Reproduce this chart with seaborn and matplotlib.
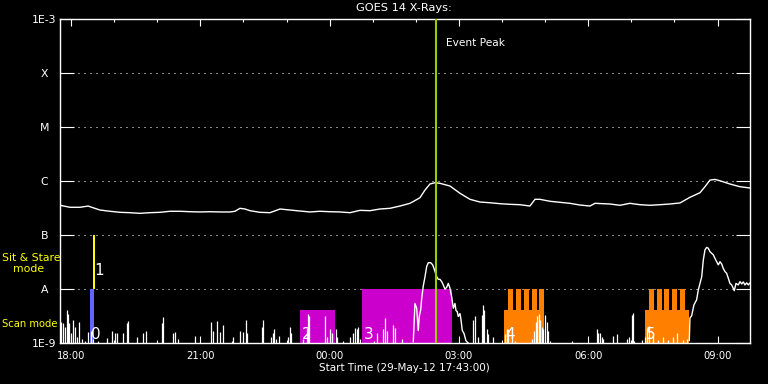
import numpy as np
import pandas as pd
import matplotlib
matplotlib.use('Agg')
import matplotlib.pyplot as plt
import matplotlib.dates as mdates
from matplotlib.ticker import NullLocator
import seaborn as sns

# start of the plotted interval; all times below are minutes after it
start = pd.Timestamp('2012-05-29 17:43:00')

# GOES 14 long channel (1-8 A), (minute, W/m^2)
long_xrs = [(0, 3.59e-7), (15.6, 3.26e-7), (29.5, 3.26e-7), (41.1, 3.44e-7), (43.5, 3.34e-7),
            (57.4, 2.9e-7), (71.3, 2.75e-7), (85.2, 2.63e-7), (99.1, 2.59e-7), (113, 2.52e-7),
            (127, 2.59e-7), (140.9, 2.63e-7), (154.8, 2.75e-7), (168.7, 2.75e-7), (182.7, 2.7e-7),
            (196.6, 2.67e-7), (210.5, 2.7e-7), (224.4, 2.67e-7), (238.3, 2.67e-7), (245.3, 2.75e-7),
            (252.2, 3.12e-7), (259.2, 3.03e-7), (266.2, 2.82e-7), (280.1, 2.63e-7), (294, 2.59e-7),
            (308, 3.03e-7), (321.9, 2.9e-7), (335.8, 2.78e-7), (349.7, 2.67e-7), (363.6, 2.75e-7),
            (377.5, 2.7e-7), (391.5, 2.67e-7), (405.4, 2.59e-7), (419.3, 2.86e-7), (433.2, 2.82e-7),
            (447.1, 3.03e-7), (461, 3.12e-7), (475, 3.44e-7), (488.9, 3.86e-7), (502.8, 4.9e-7),
            (509.8, 6.8e-7), (516.7, 8.8e-7), (523.7, 9.3e-7), (530.6, 9.06e-7), (544.6, 8.07e-7),
            (558.5, 5.92e-7), (572.4, 4.58e-7), (586.3, 4.08e-7), (600.2, 3.96e-7), (614.2, 3.8e-7),
            (628.1, 3.7e-7), (642, 3.64e-7), (655.9, 3.44e-7), (662.9, 4.58e-7), (669.8, 4.58e-7),
            (683.8, 4.21e-7), (697.7, 4.03e-7), (711.6, 3.86e-7), (725.5, 3.59e-7), (739.4, 3.44e-7),
            (746.4, 3.86e-7), (767.3, 3.75e-7), (781.2, 3.55e-7), (795.1, 3.86e-7), (809, 3.64e-7),
            (823, 3.55e-7), (836.9, 3.64e-7), (850.8, 3.75e-7), (864.7, 3.92e-7), (878.6, 4.99e-7),
            (892.6, 6.07e-7), (899.5, 7.84e-7), (906.5, 1.04e-6), (913.4, 1.07e-6), (920.4, 1.01e-6),
            (934.3, 8.8e-7), (948.2, 7.84e-7), (962.2, 7.42e-7)]

# short channel (0.5-4 A): the two continuous rises
short_flare = [(493.5, 1.05e-9), (495.8, 5.4e-9), (498.2, 4.4e-9), (500.4, 1.7e-9), (501.8, 3.1e-9),
               (503.8, 4.1e-9), (505.2, 6.7e-9), (507.4, 1.14e-8), (509.8, 1.69e-8), (512.1, 2.6e-8),
               (514.4, 3.07e-8), (517.7, 3.07e-8), (520.5, 2.8e-8), (522.3, 2.4e-8), (526.1, 1.69e-8),
               (528.3, 1.51e-8), (530.6, 1.51e-8), (533, 1.37e-8), (535.2, 1.19e-8), (537.6, 9.9e-9),
               (539.9, 1.07e-8), (542.2, 1.27e-8), (544.6, 1.03e-8), (546.9, 7.2e-9), (549.2, 4.4e-9),
               (551.5, 5.4e-9), (552.9, 4.0e-9), (554.7, 3.8e-9), (556.1, 3.1e-9), (558.5, 3.5e-9),
               (559.9, 2.7e-9), (561.7, 1.7e-9), (564.1, 1.5e-9), (566.8, 1.1e-9), (570, 1.0e-9)]
short_end = [(877.7, 1.1e-9), (878.6, 2.9e-9), (881, 3.2e-9), (884.2, 5.1e-9), (887.9, 6.3e-9),
             (890.2, 9.6e-9), (892.6, 1.27e-8), (895, 1.69e-8), (897.2, 3.44e-8), (899.5, 5.3e-8),
             (901.9, 5.9e-8), (904.1, 5.7e-8), (906.5, 4.9e-8), (908.8, 4.6e-8), (911.1, 4.3e-8),
             (913.4, 3.7e-8), (915.8, 3.2e-8), (918.1, 2.8e-8), (920.4, 3.2e-8), (922.8, 2.9e-8),
             (925, 2.4e-8), (927.4, 2.1e-8), (929.7, 1.95e-8), (932, 1.58e-8), (934.3, 1.27e-8),
             (936.7, 1.19e-8), (938.9, 1.03e-8), (940.3, 9.3e-9), (942.7, 1.27e-8), (945.9, 1.19e-8),
             (948.3, 1.37e-8), (950.6, 1.24e-8), (952.9, 1.35e-8), (955.2, 1.19e-8), (957.6, 1.3e-8),
             (959.8, 1.19e-8), (962.2, 1.3e-8)]

# short channel noise spikes rising off the 1E-9 floor
short_spikes = [(3.1, 2.5e-9), (6.3, 2.3e-9), (8.7, 2.0e-9), (11.0, 4.1e-9), (12.4, 3.5e-9),
                (14.7, 2.3e-9), (17.0, 1.5e-9), (20.3, 2.7e-9), (22.6, 2.0e-9), (24.9, 1.3e-9),
                (28.1, 2.5e-9), (31.9, 1.2e-9), (36.5, 1.1e-9), (41.1, 1.6e-9), (44.4, 1.7e-9),
                (48.1, 1.2e-9), (55.1, 1.1e-9), (66.7, 1.25e-9), (73.6, 1.7e-9), (78.3, 1.5e-9),
                (81.5, 1.55e-9), (89.9, 1.5e-9), (94.5, 2.3e-9), (96.8, 2.6e-9), (108.4, 1.3e-9),
                (117.7, 1.5e-9), (121.4, 1.7e-9), (143.2, 2.3e-9), (145.5, 3.0e-9), (159.5, 1.5e-9),
                (161.8, 1.6e-9), (166.4, 1.2e-9), (189.6, 1.35e-9), (211.4, 2.5e-9), (215.1, 1.7e-9),
                (220.7, 2.6e-9), (224.4, 1.6e-9), (228.1, 2.2e-9), (240.7, 1.1e-9), (243.0, 1.3e-9),
                (252.3, 1.7e-9), (256.9, 1.6e-9), (260.1, 2.7e-9), (262.5, 1.5e-9),
                (282.5, 2.0e-9), (284.7, 2.7e-9), (295, 1.27e-9), (297.8, 1.55e-9), (299.6, 1.8e-9),
                (302.4, 1.2e-9), (307, 1.35e-9), (319.5, 1.27e-9), (321.8, 2.0e-9), (323.7, 1.5e-9),
                (340.4, 1.2e-9), (345.1, 1.9e-9), (347.3, 3.5e-9), (348.7, 3.1e-9), (370.6, 3.2e-9),
                (373, 1.3e-9), (377.5, 1.8e-9), (379.9, 1.5e-9), (385.9, 1.8e-9), (387.7, 1.3e-9),
                (396, 1.1e-9), (405.4, 1.27e-9), (410, 1.55e-9), (412.3, 1.9e-9), (414.7, 1.8e-9),
                (416.9, 1.95e-9), (419.3, 1.2e-9), (438.8, 1.1e-9), (442.5, 1.5e-9), (451.7, 1.8e-9),
                (454.1, 2.9e-9), (456.4, 1.65e-9), (465.7, 2.15e-9), (468, 1.9e-9), (477.3, 1.2e-9),
                (577, 2.7e-9), (579.4, 3.1e-9), (584, 1.3e-9), (588.7, 3.3e-9), (590.1, 5.0e-9),
                (591.9, 4.1e-9), (595.6, 1.8e-9), (597.9, 1.45e-9), (604.9, 1.27e-9), (621.1, 1.45e-9),
                (623.5, 1.8e-9), (625.7, 1.8e-9), (630.5, 1.3e-9), (635, 1.1e-9), (658.3, 1.2e-9),
                (661.9, 1.65e-9), (663.9, 2.5e-9), (666.1, 3.1e-9), (668.5, 3.5e-9), (669.9, 2.7e-9),
                (672.2, 2.0e-9), (674.4, 1.8e-9), (676.8, 3.3e-9), (679.2, 2.5e-9), (681.4, 1.65e-9),
                (683.8, 1.1e-9), (714, 1.1e-9), (748.8, 1.8e-9), (751, 1.5e-9), (753.4, 1.55e-9),
                (755.7, 1.27e-9), (758, 1.2e-9), (771.9, 1.35e-9), (777.5, 1.45e-9), (790.5, 1.2e-9),
                (794.1, 1.27e-9), (797.5, 3.3e-9), (798.9, 3.6e-9), (800.7, 1.1e-9), (811.4, 1.14e-9),
                (816, 1.3e-9), (818.4, 1.87e-9), (822, 2.06e-9), (827.6, 1.5e-9), (834.5, 1.14e-9),
                (841.5, 1.3e-9), (848.5, 1.14e-9), (855.4, 1.3e-9), (861, 1.5e-9), (869.3, 1.14e-9),
                (874, 1.2e-9)]

# observation periods: (start min, end min, bottom flux, top flux, colour)
obs_blocks = [(43.4, 49.0, 1e-9, 1e-8, '#6464ff'),
              (47.6, 50.4, 1e-8, 1e-7, '#ffff00'),
              (335.8, 384.5, 1e-9, 4.1e-9, '#cc00cc'),
              (422.1, 546.9, 1e-9, 1e-8, '#cc00cc'),
              (619.7, 675.4, 1e-9, 4.1e-9, '#ff8000'),
              (625.3, 632.3, 1e-9, 1e-8, '#ff8000'), (636.4, 643.4, 1e-9, 1e-8, '#ff8000'),
              (647.6, 654.5, 1e-9, 1e-8, '#ff8000'), (658.7, 665.7, 1e-9, 1e-8, '#ff8000'),
              (668.5, 675.4, 1e-9, 1e-8, '#ff8000'),
              (816.0, 877.3, 1e-9, 4.1e-9, '#ff8000'),
              (821.6, 828.5, 1e-9, 1e-8, '#ff8000'), (832.7, 839.7, 1e-9, 1e-8, '#ff8000'),
              (842.5, 849.4, 1e-9, 1e-8, '#ff8000'), (853.6, 860.6, 1e-9, 1e-8, '#ff8000'),
              (864.8, 871.7, 1e-9, 1e-8, '#ff8000')]
# numbered observations: (start min, base flux, label)
obs_labels = [(43.4, 1e-9, '0'), (47.6, 1e-8, '1'), (335.8, 1e-9, '2'),
              (422.1, 1e-9, '3'), (619.7, 1e-9, '4'), (816.0, 1e-9, '5')]

peak_min = 525.1
level_vals = [1e-9, 1e-8, 1e-7, 1e-6, 1e-5, 1e-4, 1e-3]
level_names = ['1E-9', 'A', 'B', 'C', 'M', 'X', '1E-3']


def to_time(m):
    return start + pd.to_timedelta(np.asarray(m, dtype=float), unit='min')


sns.set_theme(style='dark', rc={'axes.facecolor': 'black', 'figure.facecolor': 'black',
                                'text.color': 'white', 'axes.edgecolor': 'white'})
plt.rcParams['font.family'] = ['DejaVu Sans']

fig = plt.figure(figsize=(7.68, 3.84), dpi=100)
ax = fig.add_axes([60 / 768, 41 / 384, 690 / 768, 324 / 384])
ax.set_yscale('log')

for m0, m1, lo, hi, col in obs_blocks:
    ax.fill_between(to_time([m0, m1]), lo, hi, color=col, lw=0, zorder=1)

lm, lf = zip(*long_xrs)
sns.lineplot(x=to_time(lm), y=list(lf), ax=ax, color='white', lw=1.0,
             estimator=None, sort=False, zorder=3)
for seg in (short_flare, short_end):
    sm, sf = zip(*seg)
    sns.lineplot(x=to_time(sm), y=list(sf), ax=ax, color='white', lw=1.0,
                 estimator=None, sort=False, zorder=3)
pm, pf = zip(*short_spikes)
ax.vlines(to_time(pm), 1e-9, pf, colors='white', lw=0.9, zorder=3)

for m0, base, lab in obs_labels:
    ax.annotate(lab, xy=(to_time([m0])[0], base), xytext=(1, 0.5 if base < 5e-9 else 8),
                textcoords='offset points', ha='left', va='bottom', color='white',
                fontsize=11, zorder=4)

peak_t = to_time([peak_min])[0]
ax.axvline(peak_t, color='#9acd00', lw=1.5, zorder=5)
ax.annotate('Event Peak', xy=(peak_t, 1), xycoords=('data', 'axes fraction'),
            xytext=(7.5, -17.5), textcoords='offset points', ha='left', va='center',
            color='white', fontsize=7.6)

ax.set_xlim(to_time([1.7])[0], to_time([962.2])[0])
ax.set_ylim(1e-9, 1e-3)
ax.set_yticks(level_vals)
ax.set_yticklabels(level_names)
ax.yaxis.set_minor_locator(NullLocator())
for t in ax.get_yticklabels():
    t.set_horizontalalignment('center')
ax.xaxis.set_major_locator(mdates.HourLocator(byhour=range(0, 24, 3)))
ax.xaxis.set_minor_locator(mdates.HourLocator())
ax.xaxis.set_major_formatter(mdates.DateFormatter('%H:%M'))

ax.tick_params(axis='y', which='major', direction='in', length=10, width=0.8,
               left=True, right=True, colors='white', labelsize=7.8, pad=11.2)
ax.tick_params(axis='x', which='major', direction='in', length=5, width=0.8,
               top=True, bottom=True, colors='white', labelsize=7.2, pad=6)
ax.tick_params(axis='x', which='minor', direction='in', length=2.5, width=0.8,
               top=True, bottom=True, colors='white')

ax.grid(False)
ax.grid(axis='y', which='major', color='white', lw=0.75, linestyle=(0, (1, 4.76)))
for s in ax.spines.values():
    s.set_color('white')
    s.set_linewidth(1.0)
    s.set_visible(True)
ax.set_xlabel('')
ax.set_ylabel('')

fig.text(404 / 768, 1 - 8 / 384, 'GOES 14 X-Rays:', ha='center', va='center',
         color='white', fontsize=8.2)
fig.text(404 / 768, 1 - 368 / 384, 'Start Time (29-May-12 17:43:00)', ha='center',
         va='center', color='white', fontsize=7.5)
fig.text(2 / 768, 1 - 258 / 384, 'Sit & Stare', ha='left', va='center',
         color='#ffff00', fontsize=7.8)
fig.text(13 / 768, 1 - 269 / 384, 'mode', ha='left', va='center',
         color='#ffff00', fontsize=7.8)
fig.text(2 / 768, 1 - 324 / 384, 'Scan mode', ha='left', va='center',
         color='#ffff00', fontsize=7.2)

fig.savefig('out.png', dpi=100, facecolor='black')
